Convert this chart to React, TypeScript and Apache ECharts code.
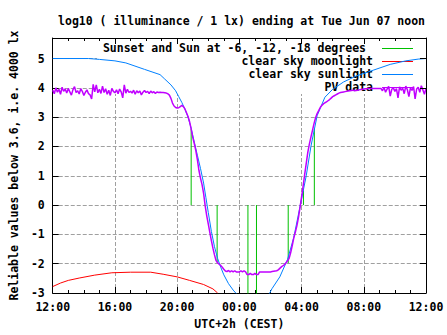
import React, { useEffect, useRef } from "react";
import * as echarts from "echarts";

const FONT = '"DejaVu Sans Mono", "Liberation Mono", monospace';

const titleText = "log10 ( illuminance / 1 lx) ending at Tue Jun 07 noon";
const xAxisName = "UTC+2h (CEST)";
const yAxisName = "Reliable values below 3.6, i.e. 4000 lx";
const seriesNames = [
  "Sunset and Sun at -6, -12, -18 degrees",
  "clear sky moonlight",
  "clear sky sunlight",
  "PV data",
];

// x values: hours after 12:00 (Jun 06, CEST)
const sunEventHours = [8.9, 10.57, 12.55, 13.1, 15.14, 16.12, 16.82];
const sunEventValues = [2.6, -1.95, -3.5, -3.5, -1.98, 0.5, 2.6];

const moonlightHours = [0, 0.5, 1.0, 1.7, 2.7, 3.8, 5.0, 6.3, 7.1, 8.0, 8.8, 9.7, 10.3, 10.6];
const moonlightValues = [-2.78, -2.66, -2.57, -2.49, -2.39, -2.31, -2.29, -2.29, -2.36, -2.45, -2.57, -2.71, -2.86, -3.0];

const sunlightHours = [
  0, 2.3, 3.0, 4.0, 4.7, 5.9, 6.9, 7.2, 7.6, 7.9, 8.1, 8.3, 8.5, 8.7, 8.9, 9.1, 9.3, 9.5, 9.7, 9.85,
  10.0, 10.2, 10.4, 10.6, 10.8, 11.0, 11.3, 11.6, 11.8, 12.2, 13.6, 13.95, 14.1, 14.6, 15.1, 15.5,
  15.9, 16.3, 16.6, 17.0, 17.5, 18.0, 18.7, 19.5, 20.6, 21.7, 22.7, 23.5, 24,
];
const sunlightValues = [
  5.0, 5.0, 4.97, 4.92, 4.85, 4.63, 4.45, 4.3, 4.1, 3.9, 3.7, 3.5, 3.27, 3.0, 2.62, 2.15, 1.7, 1.25, 0.75, 0.25,
  -0.25, -0.9, -1.42, -1.82, -2.12, -2.38, -2.68, -2.9, -3.02, -3.3, -3.3, -3.0, -2.85, -2.45, -1.85, -1.1,
  -0.05, 1.0, 2.0, 3.05, 3.68, 3.95, 4.2, 4.4, 4.6, 4.8, 4.92, 4.98, 5.0,
];

// PV data, sampled every 6 minutes (0.1 h), in chunks with their start hour
const pvStepHours = 0.1;
const pvAfternoonStart = 0.0;
const pvAfternoon = [
  3.92, 3.8, 4.0, 3.85, 3.95, 3.78, 4.02, 3.88, 3.96, 3.82,
  3.98, 3.86, 3.75, 3.94, 4.04, 3.84, 3.9, 3.79, 3.97, 3.88,
  3.74, 3.85, 3.93, 3.8, 3.76, 3.62, 4.12, 3.86, 4.1, 3.83,
  3.95, 3.81, 4.06, 3.84, 3.97, 3.78, 3.92, 3.74, 3.98, 3.88,
  3.83, 3.93, 3.8, 3.96, 3.86, 3.66, 4.1, 3.82, 3.95, 3.84,
  3.88, 3.82, 3.92, 3.78, 3.9, 3.83, 3.89, 3.76, 3.85, 3.91,
  3.84, 3.88, 3.8, 3.89, 3.83, 3.87, 3.81, 3.86, 3.84, 3.85,
];
const pvDuskStart = 7.0;
const pvDusk = [
  3.84, 3.84, 3.83, 3.82, 3.8, 3.75, 3.64, 3.48, 3.38, 3.33,
  3.31, 3.32, 3.36, 3.4, 3.36, 3.28, 3.15, 3.02, 2.84, 2.6,
  2.32, 2.1, 1.86, 1.55, 1.18, 0.92, 0.7, 0.4, -0.02, -0.36,
  -0.64, -0.93, -1.21, -1.47, -1.7, -1.89, -1.97, -2.02, -2.06, -2.12,
  -2.19,
];
const pvNightStart = 11.1;
const pvNight = [
  -2.25, -2.27, -2.23, -2.28, -2.24, -2.28, -2.24, -2.28, -2.28, -2.28,
  -2.24, -2.28, -2.24, -2.28, -2.37, -2.37, -2.33, -2.37, -2.37, -2.33,
  -2.37, -2.37, -2.28, -2.28, -2.28, -2.28, -2.28, -2.28, -2.28, -2.28,
  -2.27, -2.26, -2.25,
];
const pvDawnStart = 14.4;
const pvDawn = [
  -2.24, -2.21, -2.16, -2.11, -2.07, -2.03, -1.97, -1.9, -1.82, -1.62,
  -1.38, -1.12, -0.92, -0.7, -0.42, -0.08, 0.28, 0.65, 1.05, 1.42,
  1.8, 2.08, 2.32, 2.55, 2.78, 2.98, 3.12, 3.22, 3.33, 3.4,
  3.45, 3.49, 3.52, 3.56, 3.6, 3.65, 3.7, 3.73, 3.76, 3.79,
  3.82, 3.84, 3.85, 3.86, 3.87, 3.88, 3.89, 3.9, 3.91, 3.92,
  3.9, 3.91, 3.92, 3.93, 3.94, 3.95, 3.96, 3.97, 3.97, 3.98,
  3.98, 3.98, 3.98, 3.98, 3.98, 3.98,
];
const pvMorningStart = 21.0;
const pvMorning = [
  3.98, 3.98, 3.9, 4.02, 3.85, 3.96, 4.05, 3.72, 3.95, 4.0,
  3.88, 3.97, 3.66, 4.03, 3.92, 3.99, 3.8, 4.06, 3.94, 3.7,
  4.0, 3.91, 4.04, 3.62, 3.96, 4.02, 3.85, 4.07, 3.93, 3.78,
  3.98,
];

const COLORS = ["#00c000", "#ff0000", "#0080ff", "#c000ff"];

const chunk = (start: number, values: number[]) =>
  values.map((v, i) => [Math.round((start + i * pvStepHours) * 100) / 100, v]);

const pvData = [
  ...chunk(pvAfternoonStart, pvAfternoon),
  ...chunk(pvDuskStart, pvDusk),
  ...chunk(pvNightStart, pvNight),
  ...chunk(pvDawnStart, pvDawn),
  ...chunk(pvMorningStart, pvMorning),
];

const sunEventData: any[] = [];
sunEventHours.forEach((h, i) => {
  sunEventData.push([h, 0], [h, sunEventValues[i]], [h, "-"]);
});

const zip = (xs: number[], ys: number[]) => xs.map((x, i) => [x, ys[i]]);

const boldText = { fontFamily: FONT, fontWeight: "bold" as const, fontSize: 11.5, color: "#000" };

const fmtHour = (v: number) => {
  const h = (12 + Math.round(v)) % 24;
  return String(h).padStart(2, "0") + ":00";
};

export default function App() {
  const ref = useRef<HTMLDivElement>(null);
  useEffect(() => {
    if (!ref.current) return;
    const chart = echarts.init(ref.current, undefined, { renderer: "svg" });
    const legendRows = [48, 61, 74, 87];
    const legendTextRight = [366, 373, 373, 373];
    const graphics: any[] = [
      {
        type: "rect",
        shape: { x: 97, y: 39, width: 328, height: 55 },
        style: { fill: "#fff" },
        z: 1,
        silent: true,
      },
    ];
    seriesNames.forEach((name, i) => {
      graphics.push({
        type: "text",
        z: 3,
        style: {
          text: name,
          x: legendTextRight[i],
          y: legendRows[i],
          align: "right",
          verticalAlign: "middle",
          font: `bold 11.5px ${FONT}`,
          fill: "#000",
        },
      });
      graphics.push({
        type: "line",
        z: 3,
        shape: { x1: 382, y1: legendRows[i] + 0.5, x2: 413, y2: legendRows[i] + 0.5 },
        style: { stroke: COLORS[i], lineWidth: 1 },
      });
    });

    const mkLine = () => ({ show: true, onZero: false, lineStyle: { color: "#000", width: 1 } });
    const mkTick = () => ({ show: true, inside: true, length: 6, lineStyle: { color: "#000" } });
    const mkMinor = () => ({ show: true, splitNumber: 4, length: 3, lineStyle: { color: "#000" } });
    const mkGrid = () => ({ show: true, lineStyle: { color: "#a0a0a0", width: 1, type: "dashed" as const, dashOffset: 0 } });

    chart.setOption({
      animation: false,
      backgroundColor: "#fff",
      title: {
        text: titleText,
        left: 236.5,
        top: 10,
        textAlign: "center",
        textStyle: { ...boldText },
      },
      grid: { left: 47, right: 21, top: 38, bottom: 40 },
      xAxis: [
        {
          type: "value",
          min: 0,
          max: 24,
          interval: 4,
          position: "bottom",
          axisLine: mkLine(),
          axisTick: mkTick(),
          minorTick: mkMinor(),
          splitLine: mkGrid(),
          axisLabel: { ...boldText, margin: 8, formatter: fmtHour },
          name: xAxisName,
          nameLocation: "middle",
          nameGap: 25,
          nameTextStyle: { ...boldText },
        },
        {
          type: "value",
          min: 0,
          max: 24,
          interval: 4,
          position: "top",
          z: 5,
          axisLine: mkLine(),
          axisTick: mkTick(),
          minorTick: mkMinor(),
          splitLine: { show: false },
          axisLabel: { show: false },
        },
      ],
      yAxis: [
        {
          type: "value",
          min: -3,
          max: 5.7,
          interval: 1,
          position: "left",
          axisLine: mkLine(),
          axisTick: mkTick(),
          splitLine: mkGrid(),
          axisLabel: {
            ...boldText,
            margin: 8,
            showMaxLabel: false,
            formatter: (v: number) => (Number.isInteger(v) ? String(v) : ""),
          },
          name: yAxisName,
          nameLocation: "middle",
          nameGap: 28,
          nameTextStyle: { ...boldText },
        },
        {
          type: "value",
          min: -3,
          max: 5.7,
          interval: 1,
          position: "right",
          z: 5,
          axisLine: mkLine(),
          axisTick: mkTick(),
          splitLine: { show: false },
          axisLabel: { show: false },
        },
      ],
      graphic: graphics,
      series: [
        {
          name: seriesNames[0],
          type: "line",
          data: sunEventData,
          showSymbol: false,
          connectNulls: false,
          lineStyle: { color: COLORS[0], width: 1 },
          itemStyle: { color: COLORS[0] },
        },
        {
          name: seriesNames[1],
          type: "line",
          data: zip(moonlightHours, moonlightValues),
          showSymbol: false,
          lineStyle: { color: COLORS[1], width: 1 },
          itemStyle: { color: COLORS[1] },
        },
        {
          name: seriesNames[2],
          type: "line",
          data: zip(sunlightHours, sunlightValues),
          showSymbol: false,
          lineStyle: { color: COLORS[2], width: 1 },
          itemStyle: { color: COLORS[2] },
        },
        {
          name: seriesNames[3],
          type: "line",
          data: pvData,
          showSymbol: false,
          lineStyle: { color: COLORS[3], width: 1.5 },
          itemStyle: { color: COLORS[3] },
        },
      ],
    });
    return () => chart.dispose();
  }, []);
  return (
    <div
      ref={ref}
      style={{ position: "fixed", left: 0, top: 0, width: 447, height: 335, background: "#fff" }}
    />
  );
}
